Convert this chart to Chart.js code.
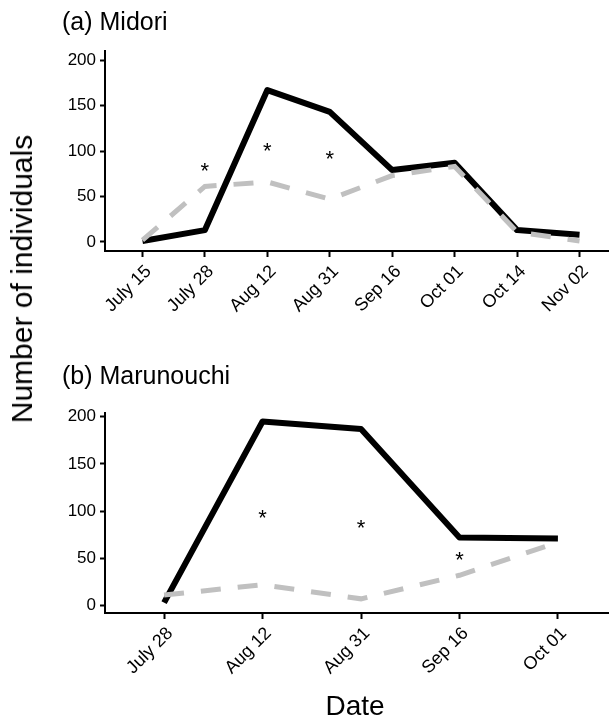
<!DOCTYPE html>
<html>
<head>
<meta charset="utf-8">
<script src="https://cdn.jsdelivr.net/npm/chart.js@4"></script>
<style>
  html, body { margin: 0; padding: 0; background: #fff; }
  body { width: 609px; height: 724px; overflow: hidden; position: relative; font-family: "Liberation Sans", Arial, sans-serif; color: #000; }
  canvas { position: absolute; left: 0; }
  #chartA { top: 0; }
  #chartB { top: 360px; }
  .label { position: absolute; white-space: nowrap; line-height: 1; }
  #titleA { left: 62px; top: 9px; font-size: 25px; }
  #titleB { left: 62px; top: 363px; font-size: 25px; }
  #ylab { left: 22px; top: 279px; font-size: 30px; transform: translate(-50%, -50%) rotate(-90deg); }
  #xlab { left: 355px; top: 706px; font-size: 28px; transform: translate(-50%, -50%); }
</style>
</head>
<body>
<canvas id="chartA" width="617" height="360"></canvas>
<canvas id="chartB" width="617" height="364"></canvas>
<div class="label" id="titleA">(a) Midori</div>
<div class="label" id="titleB">(b) Marunouchi</div>
<div class="label" id="ylab">Number of individuals</div>
<div class="label" id="xlab">Date</div>
<script>
// (a) Midori
const datesA = ['July 15', 'July 28', 'Aug 12', 'Aug 31', 'Sep 16', 'Oct 01', 'Oct 14', 'Nov 02'];
const solidA = [1, 13, 167, 143, 79, 87, 13, 8];
const dashedA = [2, 61, 66, 47, 73, 83, 11, 1];
const starXA = [1, 2, 3];
const starYA = [81, 102, 94];

// (b) Marunouchi
const datesB = ['July 28', 'Aug 12', 'Aug 31', 'Sep 16', 'Oct 01'];
const solidB = [3, 195, 187, 72, 71];
const dashedB = [11, 22, 7, 32, 67];
const starXB = [1, 2, 3];
const starYB = [95, 85, 51];

const yTicks = [0, 50, 100, 150, 200];

const FONT = '"Liberation Sans", Arial, sans-serif';

// draws the asterisks through the chart scales
const starPlugin = {
  id: 'stars',
  afterDatasetsDraw(chart, args, opts) {
    const ctx = chart.ctx;
    const xs = chart.scales.x, ys = chart.scales.y;
    ctx.save();
    ctx.fillStyle = '#000';
    ctx.font = '22px ' + FONT;
    ctx.textAlign = 'center';
    ctx.textBaseline = 'alphabetic';
    opts.xs.forEach(function (xv, i) {
      const px = xs.getPixelForValue(xv);
      const py = ys.getPixelForValue(opts.ys[i]);
      ctx.fillText('*', px, py + 22 * 0.42);
    });
    ctx.restore();
  }
};

function makeChart(id, dates, solid, dashed, starX, starY, padTop, xHeight, yMin, yMax) {
  const ctx = document.getElementById(id).getContext('2d');
  return new Chart(ctx, {
    type: 'line',
    data: {
      datasets: [{
        label: 'dashed',
        data: dashed.map((v, i) => ({ x: i, y: v })),
        borderColor: '#c0c0c0',
        borderWidth: 5,
        borderDash: [20, 17],
        pointRadius: 0,
        fill: false,
        tension: 0,
      }, {
        label: 'solid',
        data: solid.map((v, i) => ({ x: i, y: v })),
        borderColor: '#000',
        borderWidth: 6,
        borderJoinStyle: 'round',
        pointRadius: 0,
        fill: false,
        tension: 0,
      }]
    },
    options: {
      responsive: false,
      animation: false,
      devicePixelRatio: 1,
      layout: { padding: { top: padTop, left: 0, right: 0, bottom: 0 } },
      plugins: {
        legend: { display: false },
        tooltip: { enabled: false },
        stars: { xs: starX, ys: starY },
      },
      scales: {
        x: {
          type: 'linear',
          min: -0.6,
          max: dates.length - 1 + 0.6,
          afterBuildTicks: s => { s.ticks = dates.map((d, i) => ({ value: i })); },
          afterFit: s => { s.height = xHeight; },
          border: { display: true, color: '#000', width: 2 },
          grid: { drawOnChartArea: false, drawTicks: true, tickLength: 6, tickColor: '#000', tickWidth: 2 },
          ticks: {
            autoSkip: false,
            maxRotation: 45,
            minRotation: 45,
            padding: 4,
            labelOffset: 6,
            color: '#000',
            font: { family: FONT, size: 18 },
            callback: v => dates[v],
          },
        },
        y: {
          min: yMin,
          max: yMax,
          afterBuildTicks: s => { s.ticks = yTicks.map(v => ({ value: v })); },
          afterFit: s => { s.width = 105; },
          border: { display: true, color: '#000', width: 2 },
          grid: { drawOnChartArea: false, drawTicks: true, tickLength: 5, tickColor: '#000', tickWidth: 2 },
          ticks: {
            padding: 4,
            color: '#000',
            font: { family: FONT, size: 17 },
          },
        },
      },
    },
    plugins: [starPlugin],
  });
}

makeChart('chartA', datesA, solidA, dashedA, starXA, starYA, 51, 109, -10, 210);
makeChart('chartB', datesB, solidB, dashedB, starXB, starYB, 53, 111, -8, 204);
</script>
</body>
</html>
